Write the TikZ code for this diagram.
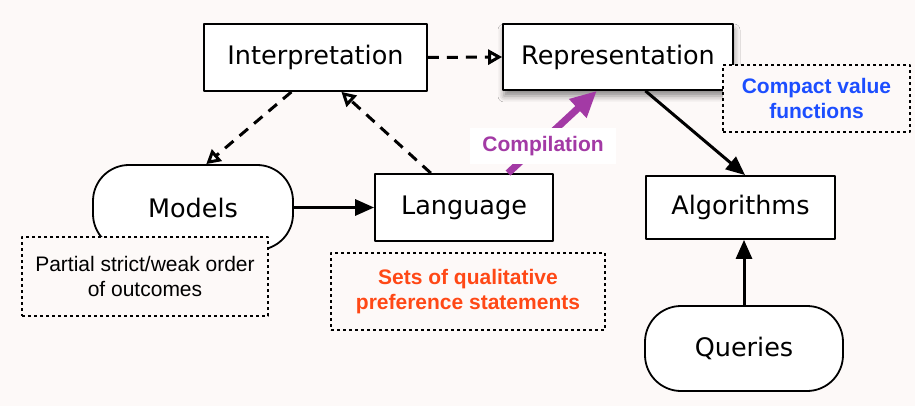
\documentclass[tikz,border=0pt]{standalone}
\usepackage{fontspec}
\setmainfont{DejaVu Sans}
\newfontfamily\notefont{Liberation Sans}
\usetikzlibrary{arrows.meta,shadows.blur}

\definecolor{pagebg}{RGB}{253,249,248}
\definecolor{compil}{RGB}{163,58,165}
\definecolor{setsred}{RGB}{255,72,22}
\definecolor{valblue}{RGB}{28,78,255}

\tikzset{
  box/.style={draw, line width=1.8pt, fill=white, inner sep=0pt,
    font={\fontsize{25.5}{30}\selectfont}},
  roundbox/.style={box, rounded corners=36pt},
  note/.style={draw, line width=1.8pt, dash pattern=on 3pt off 3pt,
    fill=pagebg, inner sep=0pt, align=center,
    font={\notefont\fontsize{21}{25}\selectfont}},
  solidarrow/.style={line width=3pt, -{Triangle[length=19pt,width=16pt]}},
  dasharrow/.style={line width=3pt, dash pattern=on 11pt off 8pt,
    -{Triangle[fill=white,length=14pt,width=15pt]}},
}

\begin{document}
\begin{tikzpicture}[x=1pt,y=-1pt,line join=round]
  % page
  \fill[pagebg] (0,0) rectangle (915,406);
  \useasboundingbox (0,0) rectangle (915,406);

  % main boxes
  \node[box, minimum width=223pt, minimum height=67pt] (interp) at (315.5,57.5) {Interpretation};
  \node[box, minimum width=230pt, minimum height=66pt,
        blur shadow={shadow xshift=1pt, shadow yshift=-6pt, shadow blur radius=6pt, shadow opacity=45}]
        (repr) at (618,57) {Representation};
  \node[roundbox, minimum width=200pt, minimum height=85pt] (models) at (193,207.5) {Models};
  \node[box, minimum width=178pt, minimum height=67pt] (lang) at (464,207.5) {Language};
  \node[box, minimum width=189pt, minimum height=63pt] (algo) at (740.5,207.5) {Algorithms};
  \node[roundbox, minimum width=198pt, minimum height=85pt] (queries) at (744,348.5) {Queries};

  % annotations
  \node[note, minimum width=246pt, minimum height=79pt] (partial) at (145,276.5)
    {Partial strict/weak order\\of outcomes};
  \node[note, minimum width=274pt, minimum height=77pt, text=setsred,
        font={\notefont\bfseries\fontsize{21}{25}\selectfont}] (sets) at (468,291.5)
    {Sets of qualitative\\preference statements};
  \node[note, minimum width=187pt, minimum height=67pt, text=valblue,
        font={\notefont\bfseries\fontsize{21}{25}\selectfont}] (compact) at (816.5,98.5)
    {Compact value\\functions};

  % connectors
  \draw[dasharrow] (interp.east) -- (repr.west);
  \draw[dasharrow] (interp.235) -- (models.73);
  \draw[dasharrow] (lang.134) -- (interp.307);
  \draw[solidarrow] (models.east) -- (lang.west);
  \draw[solidarrow] (repr.309) -- (algo.82);
  \draw[solidarrow] (queries.north) -- (queries.north |- algo.south);

  % compilation step
  \draw[compil, line width=7pt, -{Triangle[length=26pt,width=24pt]}] (lang.38) -- (repr.238);
  \node[fill=white, text=compil, inner xsep=12pt, inner ysep=8pt,
        font={\notefont\bfseries\fontsize{21}{25}\selectfont}] (complabel) at (543,146) {Compilation};
\end{tikzpicture}
\end{document}
